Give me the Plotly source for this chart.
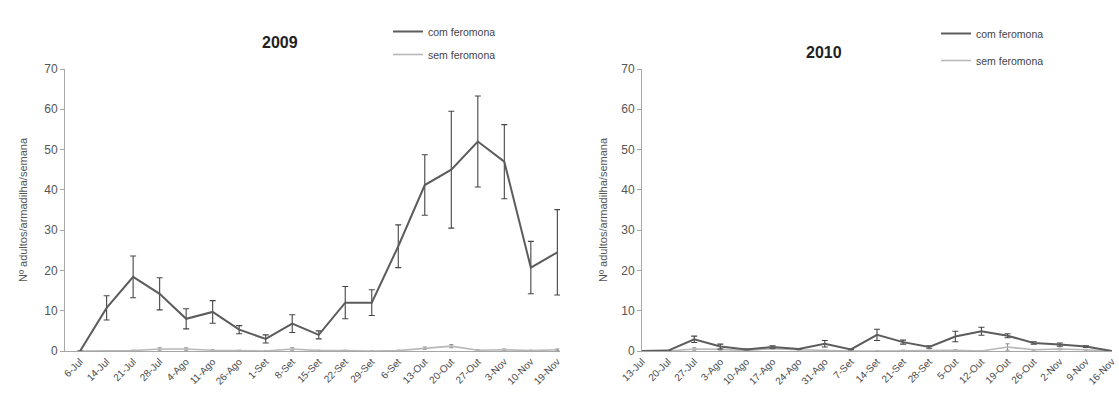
import plotly.graph_objects as go

# ---------------- data ----------------
dates_2009 = ["6-Jul", "14-Jul", "21-Jul", "28-Jul", "4-Ago", "11-Ago", "26-Ago", "1-Set",
              "8-Set", "15-Set", "22-Set", "29-Set", "6-Set", "13-Out", "20-Out", "27-Out",
              "3-Nov", "10-Nov", "19-Nov"]
com_2009 = [0, 10.7, 18.4, 14.2, 8.0, 9.7, 5.3, 3.0, 6.8, 4.0, 12.0, 12.0, 26.0, 41.2, 45.0,
            52.0, 47.0, 20.7, 24.5]
com_2009_err = [0, 3.0, 5.2, 4.0, 2.5, 2.8, 1.0, 1.0, 2.2, 1.0, 4.0, 3.2, 5.3, 7.5, 14.5,
                11.3, 9.2, 6.5, 10.6]
sem_2009 = [0, 0, 0.1, 0.5, 0.5, 0.2, 0.1, 0, 0.5, 0.1, 0.1, 0, 0.1, 0.7, 1.2, 0.2, 0.3,
            0.1, 0.3]
sem_2009_err = [0, 0, 0.1, 0.3, 0.3, 0.1, 0.1, 0, 0.3, 0.1, 0.1, 0, 0.1, 0.3, 0.4, 0.1, 0.2,
                0.1, 0.2]

dates_2010 = ["13-Jul", "20-Jul", "27-Jul", "3-Ago", "10-Ago", "17-Ago", "24-Ago", "31-Ago",
              "7-Set", "14-Set", "21-Set", "28-Set", "5-Out", "12-Out", "19-Out", "26-Out",
              "2-Nov", "9-Nov", "16-Nov"]
com_2010 = [0, 0.1, 2.9, 1.1, 0.4, 1.0, 0.5, 1.8, 0.4, 4.0, 2.2, 1.0, 3.6, 4.9, 3.8, 2.0,
            1.6, 1.1, 0]
com_2010_err = [0, 0, 0.8, 0.6, 0.1, 0.3, 0.1, 0.8, 0.1, 1.4, 0.5, 0.3, 1.3, 1.0, 0.5, 0.3,
                0.4, 0.2, 0]
sem_2010 = [0, 0, 0.5, 0.4, 0.1, 0.6, 0.3, 0.1, 0, 0, 0.1, 0.1, 0.2, 0.0, 1.0, 0.3, 0.5,
            0.3, 0]
sem_2010_err = [0, 0, 0.3, 0.2, 0.1, 0.2, 0.1, 0.1, 0, 0, 0.1, 0.1, 0.1, 0, 0.8, 0.1, 0.2,
                0.1, 0]

series_names = ["com feromona", "sem feromona"]
years = ["2009", "2010"]
ytitle = "Nº adultos/armadilha/semana"

# ---------------- styles ----------------
W, H = 1119, 399
COM = "#5c5c5c"
SEM = "#b8b8b8"
AX = "#a6a6a6"
TXT = "#555555"
FONT = "Liberation Sans"

fig = go.Figure()

def add_pair(xref, yref, cats, com, com_e, sem, sem_e, legend):
    idx = list(range(len(cats)))
    fig.add_trace(go.Scatter(
        x=idx, y=sem, mode="lines", name=series_names[1],
        line=dict(color=SEM, width=1.6),
        error_y=dict(type="data", array=sem_e, visible=True, color="#8c8c8c",
                     thickness=1, width=2),
        xaxis=xref, yaxis=yref, legend=legend, legendgroup=legend + "b",
        legendrank=2, cliponaxis=False))
    fig.add_trace(go.Scatter(
        x=idx, y=com, mode="lines", name=series_names[0],
        line=dict(color=COM, width=2),
        error_y=dict(type="data", array=com_e, visible=True, color="#454545",
                     thickness=1.1, width=3),
        xaxis=xref, yaxis=yref, legend=legend, legendgroup=legend + "a",
        legendrank=1, cliponaxis=False))

add_pair("x", "y", dates_2009, com_2009, com_2009_err, sem_2009, sem_2009_err, "legend")
add_pair("x2", "y2", dates_2010, com_2010, com_2010_err, sem_2010, sem_2010_err, "legend2")

ydom = [(H - 351) / H, (H - 69) / H]
xdom1 = [65 / W, 560 / W]
xdom2 = [642 / W, 1112 / W]

def xaxis_cfg(dom, cats, rng, anchor):
    return dict(domain=dom, anchor=anchor, range=rng, automargin=False,
                tickmode="array", tickvals=list(range(len(cats))), ticktext=cats,
                tickangle=-45, tickfont=dict(family=FONT, size=10, color="#4a4a4a"),
                showline=True, linecolor=AX, linewidth=1, ticks="",
                showgrid=False, zeroline=False)

def yaxis_cfg(anchor):
    return dict(domain=ydom, anchor=anchor, range=[0, 70], dtick=10, automargin=False,
                tickfont=dict(family=FONT, size=12, color=TXT),
                showline=True, linecolor=AX, linewidth=1, ticks="outside",
                ticklen=4, tickcolor=AX, showgrid=False, zeroline=False)

leg_font = dict(family=FONT, size=10.5, color="#444444")

def ann(text, px, py, size, color, angle=0):
    return dict(text=text, x=px / W, y=1 - py / H, xref="paper", yref="paper",
                xanchor="center", yanchor="middle", textangle=angle, showarrow=False,
                font=dict(family=FONT, size=size, color=color))

fig.update_layout(
    width=W, height=H,
    margin=dict(l=0, r=0, t=0, b=0, pad=0, autoexpand=False),
    paper_bgcolor="white", plot_bgcolor="white",
    xaxis=xaxis_cfg(xdom1, dates_2009, [-0.57, 18.1], "y"),
    yaxis=yaxis_cfg("x"),
    xaxis2=xaxis_cfg(xdom2, dates_2010, [0, 18.0], "y2"),
    yaxis2=yaxis_cfg("x2"),
    legend=dict(x=388 / W, y=1 - 17 / H, xanchor="left", yanchor="top",
                font=leg_font, bgcolor="rgba(0,0,0,0)", traceorder="grouped",
                tracegroupgap=4),
    legend2=dict(x=936 / W, y=1 - 19 / H, xanchor="left", yanchor="top",
                 font=leg_font, bgcolor="rgba(0,0,0,0)", traceorder="grouped",
                 tracegroupgap=8),
    showlegend=True,
    annotations=[
        ann("<b>" + years[0] + "</b>", 280, 42, 16, "#222222"),
        ann("<b>" + years[1] + "</b>", 824, 52, 16, "#222222"),
        ann(ytitle, 23, 210, 11, TXT, -90),
        ann(ytitle, 603, 210, 11, TXT, -90),
    ],
)

fig.write_html("out.html", config={"displayModeBar": False},
               post_script="document.body.style.margin='0';document.body.style.overflow='hidden';")
